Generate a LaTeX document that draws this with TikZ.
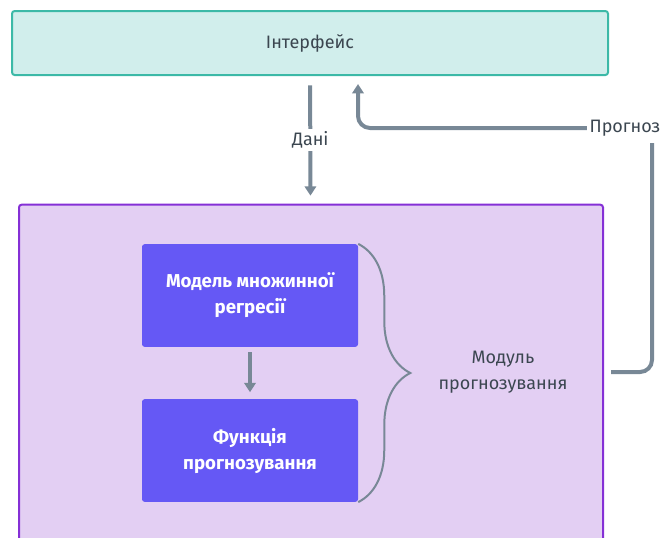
\documentclass[tikz,border=0pt]{standalone}
\usepackage{fontspec}
\setmainfont{Fira Sans}
\usetikzlibrary{
    arrows.meta,
    decorations.pathreplacing
}

\definecolor{uiFill}{HTML}{D1EEEC}
\definecolor{uiLine}{HTML}{3CB9A7}
\definecolor{modFill}{HTML}{E3CFF3}
\definecolor{modLine}{HTML}{8530D6}
\definecolor{blockFill}{HTML}{6558F5}
\definecolor{wire}{HTML}{788896}
\definecolor{ink}{HTML}{3B4650}

\tikzset{
    box/.style={draw, rounded corners=2pt, line width=1.5pt},
    block/.style={fill=blockFill, rounded corners=2pt, text=white, font=\bfseries\fontsize{14}{19.5}\selectfont,
        align=center, minimum width=162pt, minimum height=77pt},
    flow/.style={draw=wire, line width=3pt, -{Triangle[length=7pt,width=8.5pt]}},
    tag/.style={fill=white, text=ink, font=\fontsize{13.5}{16}\selectfont, inner sep=2pt}
}

\begin{document}
\begin{tikzpicture}[x=0.75pt,y=-0.75pt]

\clip (0,0) rectangle (664,537);

% Interface
\node[box, draw=uiLine, fill=uiFill, text=ink, font=\fontsize{13.5}{16}\selectfont,
    minimum width=447pt, minimum height=48pt] (ui) at (310,43) {Інтерфейс};

% Forecasting module
\node[box, draw=modLine, fill=modFill, minimum width=438pt, minimum height=266pt] (module) at (311,382) {};

% Inner blocks
\node[block] (regr) at (250,295.5) {Модель множинної\\регресії};
\node[block] (func) at (250,450.5) {Функція\\прогнозування};
\draw[flow, shorten <=4pt, shorten >=5pt] (regr) -- (func);

% Brace
\draw[draw=wire, line width=1.5pt, decorate, decoration={brace, amplitude=39pt}]
    (regr.north east) -- (func.south east);
\node[text=ink, font=\fontsize{13.5}{19.5}\selectfont, align=center] (modname) at (503,372) {Модуль\\прогнозування};

% Data
\draw[flow, shorten <=7pt, shorten >=6pt] (ui) -- (module) node[tag, pos=0.5] (data) {Дані};

% Forecast back
\coordinate (fcStart) at (611,372);
\coordinate (fcTurn) at (652,128);
\coordinate (fcEnd) at (358,84);
\draw[flow, rounded corners=9pt] (fcStart) -| (fcTurn) -| (fcEnd);
\node[tag, inner ysep=5pt] (fc) at (625,128) {Прогноз};

\end{tikzpicture}
\end{document}
